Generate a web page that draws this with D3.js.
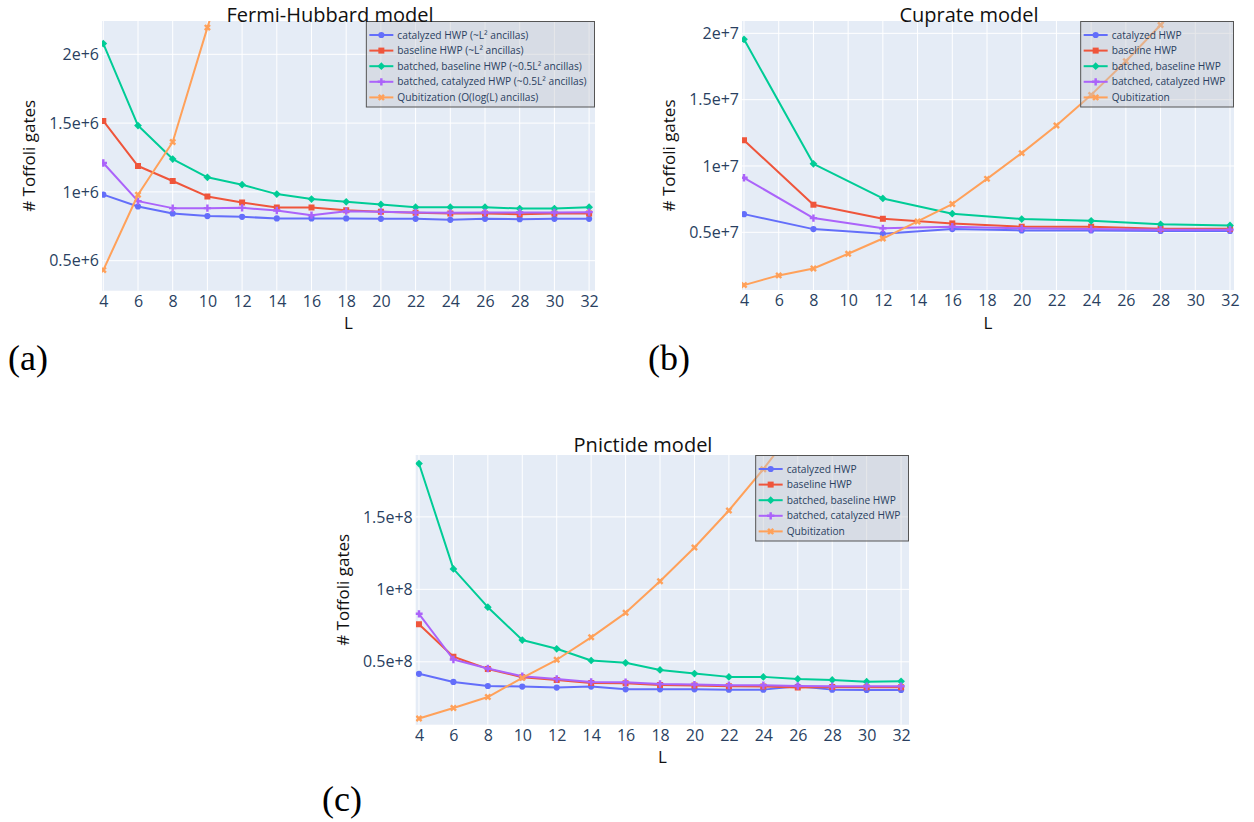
<!DOCTYPE html>
<html>
<head>
<meta charset="utf-8">
<script src="https://d3js.org/d3.v7.min.js"></script>
<style>
  body { margin: 0; background: #ffffff; }
  svg text { font-family: "Open Sans", sans-serif; }
</style>
</head>
<body>
<script>
'use strict';

// ---- data ----

// lattice sizes L
const L_ALL = [4, 6, 8, 10, 12, 14, 16, 18, 20, 22, 24, 26, 28, 30, 32];
const L_STEP4 = [4, 8, 12, 16, 20, 24, 28, 32];
const L_FH_QUBIT = [4, 6, 8, 10, 12];
const L_CU_QUBIT = [4, 6, 8, 10, 12, 14, 16, 18, 20, 22, 24, 26, 28, 30];
const L_PN_QUBIT = [4, 6, 8, 10, 12, 14, 16, 18, 20, 22, 24, 26];
const X_TICKS = [4, 6, 8, 10, 12, 14, 16, 18, 20, 22, 24, 26, 28, 30, 32];

const FH_NAMES = ['catalyzed HWP (~L² ancillas)', 'baseline HWP (~L² ancillas)',
  'batched, baseline HWP (~0.5L² ancillas)', 'batched, catalyzed HWP (~0.5L² ancillas)',
  'Qubitization (O(log(L) ancillas)'];
const NAMES = ['catalyzed HWP', 'baseline HWP', 'batched, baseline HWP',
  'batched, catalyzed HWP', 'Qubitization'];

// (a) Fermi-Hubbard
const fhCatalyzed = [0.980e6, 0.894e6, 0.843e6, 0.824e6, 0.819e6, 0.807e6, 0.807e6, 0.807e6,
  0.804e6, 0.804e6, 0.797e6, 0.804e6, 0.802e6, 0.804e6, 0.804e6];
const fhBaseline = [1.516e6, 1.188e6, 1.079e6, 0.967e6, 0.923e6, 0.887e6, 0.887e6, 0.867e6,
  0.855e6, 0.848e6, 0.843e6, 0.843e6, 0.838e6, 0.843e6, 0.843e6];
const fhBatchedBaseline = [2.078e6, 1.482e6, 1.239e6, 1.106e6, 1.052e6, 0.984e6, 0.948e6, 0.928e6,
  0.909e6, 0.889e6, 0.889e6, 0.889e6, 0.879e6, 0.879e6, 0.889e6];
const fhBatchedCatalyzed = [1.210e6, 0.933e6, 0.882e6, 0.882e6, 0.884e6, 0.865e6, 0.831e6, 0.860e6,
  0.855e6, 0.850e6, 0.848e6, 0.850e6, 0.850e6, 0.850e6, 0.853e6];
const fhQubit = [0.432e6, 0.979e6, 1.363e6, 2.194e6, 3.0e6];
const FH_Y_TICKS = [0.5e6, 1e6, 1.5e6, 2e6];
const FH_Y_LABELS = ['0.5e+6', '1e+6', '1.5e+6', '2e+6'];

// (b) Cuprate
const cuCatalyzed = [0.637e7, 0.524e7, 0.489e7, 0.524e7, 0.514e7, 0.514e7, 0.510e7, 0.510e7];
const cuBaseline = [1.194e7, 0.708e7, 0.602e7, 0.567e7, 0.542e7, 0.542e7, 0.527e7, 0.527e7];
const cuBatchedBaseline = [1.955e7, 1.016e7, 0.755e7, 0.640e7, 0.600e7, 0.587e7, 0.560e7, 0.552e7];
const cuBatchedCatalyzed = [0.911e7, 0.607e7, 0.530e7, 0.542e7, 0.530e7, 0.524e7, 0.520e7, 0.520e7];
const cuQubit = [0.102e7, 0.175e7, 0.227e7, 0.338e7, 0.453e7, 0.582e7, 0.713e7, 0.903e7,
  1.097e7, 1.305e7, 1.536e7, 1.790e7, 2.063e7, 2.350e7];
const CU_Y_TICKS = [0.5e7, 1e7, 1.5e7, 2e7];
const CU_Y_LABELS = ['0.5e+7', '1e+7', '1.5e+7', '2e+7'];

// (c) Pnictide
const pnCatalyzed = [0.417e8, 0.361e8, 0.333e8, 0.329e8, 0.322e8, 0.329e8, 0.310e8, 0.310e8,
  0.310e8, 0.308e8, 0.308e8, 0.331e8, 0.308e8, 0.306e8, 0.306e8];
const pnBaseline = [0.759e8, 0.535e8, 0.451e8, 0.394e8, 0.375e8, 0.354e8, 0.352e8, 0.340e8,
  0.336e8, 0.331e8, 0.329e8, 0.322e8, 0.326e8, 0.324e8, 0.324e8];
const pnBatchedBaseline = [1.868e8, 1.141e8, 0.877e8, 0.650e8, 0.590e8, 0.509e8, 0.493e8, 0.444e8,
  0.419e8, 0.396e8, 0.396e8, 0.382e8, 0.375e8, 0.363e8, 0.365e8];
const pnBatchedCatalyzed = [0.831e8, 0.516e8, 0.454e8, 0.400e8, 0.382e8, 0.361e8, 0.359e8, 0.347e8,
  0.343e8, 0.338e8, 0.338e8, 0.333e8, 0.331e8, 0.331e8, 0.331e8];
const pnQubit = [0.109e8, 0.181e8, 0.257e8, 0.389e8, 0.514e8, 0.669e8, 0.838e8, 1.056e8,
  1.289e8, 1.544e8, 1.829e8, 2.140e8];
const PN_Y_TICKS = [0.5e8, 1e8, 1.5e8];
const PN_Y_LABELS = ['0.5e+8', '1e+8', '1.5e+8'];

(function() {

  let svgContainer = "";

  // plotly default colours + marker symbols for the five traces
  const colors = ['#636efa', '#EF553B', '#00cc96', '#ab63fa', '#FFA15A'];
  const symbols = [
    { type: d3.symbolCircle, size: 30, rot: 0 },
    { type: d3.symbolSquare, size: 36, rot: 0 },
    { type: d3.symbolSquare, size: 30, rot: 45 },
    { type: d3.symbolCross, size: 30, rot: 0 },
    { type: d3.symbolCross, size: 30, rot: 45 }
  ];

  window.onload = function() {
    svgContainer = d3.select('body')
      .append('svg')
      .attr('width', 1254)
      .attr('height', 822);

    svgContainer.append('rect')
      .attr('width', 1254)
      .attr('height', 822)
      .attr('fill', '#ffffff');

    drawPanel({
      id: 'a', title: 'Fermi-Hubbard model', titleX: 330, titleY: 21.5,
      left: 102, right: 595, top: 21, bottom: 290.7,
      xDomain: [3.925, 32.34], yDomain: [0.282e6, 2.242e6],
      yTicks: FH_Y_TICKS, yLabels: FH_Y_LABELS, names: FH_NAMES,
      series: [[L_ALL, fhCatalyzed], [L_ALL, fhBaseline], [L_ALL, fhBatchedBaseline],
        [L_ALL, fhBatchedCatalyzed], [L_FH_QUBIT, fhQubit]],
      tagX: 8, tagY: 370
    });

    drawPanel({
      id: 'b', title: 'Cuprate model', titleX: 969, titleY: 21.5,
      left: 742, right: 1234, top: 21, bottom: 290,
      xDomain: [3.885, 32.23], yDomain: [0.065e7, 2.093e7],
      yTicks: CU_Y_TICKS, yLabels: CU_Y_LABELS, names: NAMES,
      series: [[L_STEP4, cuCatalyzed], [L_STEP4, cuBaseline], [L_STEP4, cuBatchedBaseline],
        [L_STEP4, cuBatchedCatalyzed], [L_CU_QUBIT, cuQubit]],
      tagX: 648, tagY: 370
    });

    drawPanel({
      id: 'c', title: 'Pnictide model', titleX: 643, titleY: 452,
      left: 415.7, right: 909, top: 455, bottom: 724.7,
      xDomain: [3.81, 32.46], yDomain: [0.066e8, 1.927e8],
      yTicks: PN_Y_TICKS, yLabels: PN_Y_LABELS, names: NAMES,
      series: [[L_ALL, pnCatalyzed], [L_ALL, pnBaseline], [L_ALL, pnBatchedBaseline],
        [L_ALL, pnBatchedCatalyzed], [L_PN_QUBIT, pnQubit]],
      tagX: 322, tagY: 811
    });
  }

  // one plotly-looking subplot
  function drawPanel(cfg) {
    let g = svgContainer.append('g').attr('class', 'panel-' + cfg.id);

    let xScale = d3.scaleLinear()
      .domain(cfg.xDomain)
      .range([cfg.left, cfg.right]);
    let yScale = d3.scaleLinear()
      .domain(cfg.yDomain)
      .range([cfg.bottom, cfg.top]);

    // plot background
    g.append('rect')
      .attr('x', cfg.left)
      .attr('y', cfg.top)
      .attr('width', cfg.right - cfg.left)
      .attr('height', cfg.bottom - cfg.top)
      .attr('fill', '#E5ECF6');

    // grid
    g.selectAll('.vgrid')
      .data(X_TICKS)
      .enter()
      .append('line')
        .attr('x1', (d) => xScale(d))
        .attr('x2', (d) => xScale(d))
        .attr('y1', cfg.top)
        .attr('y2', cfg.bottom)
        .attr('stroke', '#ffffff')
        .attr('stroke-width', 1);
    g.selectAll('.hgrid')
      .data(cfg.yTicks)
      .enter()
      .append('line')
        .attr('x1', cfg.left)
        .attr('x2', cfg.right)
        .attr('y1', (d) => yScale(d))
        .attr('y2', (d) => yScale(d))
        .attr('stroke', '#ffffff')
        .attr('stroke-width', 1);

    // axes (no domain line, no tick marks - plotly style)
    let xAxis = d3.axisBottom(xScale).tickValues(X_TICKS).tickSize(0).tickPadding(5);
    let xg = g.append('g')
      .attr('transform', 'translate(0,' + cfg.bottom + ')')
      .call(xAxis);
    let yAxis = d3.axisLeft(yScale).tickValues(cfg.yTicks).tickSize(0).tickPadding(3)
      .tickFormat((d, i) => cfg.yLabels[i]);
    let yg = g.append('g')
      .attr('transform', 'translate(' + cfg.left + ',0)')
      .call(yAxis);
    [xg, yg].forEach(function(ax) {
      ax.select('.domain').remove();
      ax.attr('font-family', '"Open Sans", sans-serif').attr('font-size', 16);
      ax.selectAll('text').attr('fill', '#2a3f5f');
    });

    // clip traces to the plot area
    let clipId = 'clip-' + cfg.id;
    g.append('clipPath')
      .attr('id', clipId)
      .append('rect')
        .attr('x', cfg.left)
        .attr('y', cfg.top)
        .attr('width', cfg.right - cfg.left)
        .attr('height', cfg.bottom - cfg.top);

    let traces = g.append('g').attr('clip-path', 'url(#' + clipId + ')');
    let line = d3.line()
      .x((d) => xScale(d[0]))
      .y((d) => yScale(d[1]));

    cfg.series.forEach(function(s, i) {
      let pts = s[0].map((x, j) => [x, s[1][j]]);
      traces.append('path')
        .datum(pts)
        .attr('fill', 'none')
        .attr('stroke', colors[i])
        .attr('stroke-width', 2)
        .attr('stroke-linejoin', 'round')
        .attr('d', line);
      traces.selectAll('.m' + i)
        .data(pts.filter((d) => d[1] <= cfg.yDomain[1]))
        .enter()
        .append('path')
          .attr('d', d3.symbol().type(symbols[i].type).size(symbols[i].size))
          .attr('transform', (d) => 'translate(' + xScale(d[0]) + ',' + yScale(d[1]) + ')rotate(' + symbols[i].rot + ')')
          .attr('fill', colors[i]);
    });

    // legend, anchored to the top right corner of the plot
    let lg = g.append('g');
    let box = lg.append('rect')
      .attr('y', cfg.top + 0.5)
      .attr('height', 85.5)
      .attr('fill', 'rgba(195,198,204,0.42)')
      .attr('stroke', '#555555')
      .attr('stroke-width', 1);
    let maxW = 0;
    let rows = [];
    cfg.names.forEach(function(name, i) {
      let t = lg.append('text')
        .attr('font-size', 10.2)
        .attr('fill', '#2a3f5f')
        .attr('dy', '0.35em')
        .attr('y', cfg.top + 14 + i * 15.6)
        .text(name);
      maxW = Math.max(maxW, t.node().getComputedTextLength());
      rows.push(t);
    });
    let boxW = 31 + maxW + 8;
    let bx = cfg.right - boxW - 0.5;
    box.attr('x', bx).attr('width', boxW);
    rows.forEach(function(t, i) {
      let y = cfg.top + 14 + i * 15.6;
      t.attr('x', bx + 31);
      lg.append('line')
        .attr('x1', bx + 3)
        .attr('x2', bx + 27)
        .attr('y1', y)
        .attr('y2', y)
        .attr('stroke', colors[i])
        .attr('stroke-width', 2);
      lg.append('path')
        .attr('d', d3.symbol().type(symbols[i].type).size(symbols[i].size))
        .attr('transform', 'translate(' + (bx + 15) + ',' + y + ')rotate(' + symbols[i].rot + ')')
        .attr('fill', colors[i]);
    });

    // titles
    g.append('text')
      .attr('x', cfg.titleX)
      .attr('y', cfg.titleY)
      .attr('text-anchor', 'middle')
      .attr('font-size', 20)
      .attr('fill', '#111111')
      .text(cfg.title);

    g.append('text')
      .attr('x', (cfg.left + cfg.right) / 2)
      .attr('y', cfg.bottom + 38.5)
      .attr('text-anchor', 'middle')
      .attr('font-size', 17)
      .attr('fill', '#111111')
      .text('L');

    g.append('text')
      .attr('transform', 'translate(' + (cfg.left - 67) + ',' + ((cfg.top + cfg.bottom) / 2) + ')rotate(-90)')
      .attr('text-anchor', 'middle')
      .attr('font-size', 17)
      .attr('fill', '#111111')
      .text('# Toffoli gates');

    // (a)/(b)/(c) tag under the subplot
    g.append('text')
      .attr('x', cfg.tagX)
      .attr('y', cfg.tagY)
      .style('font-family', '"Liberation Serif", "DejaVu Serif", serif')
      .attr('font-size', 36)
      .attr('fill', '#000000')
      .text('(' + cfg.id + ')');
  }

})();
</script>
</body>
</html>
